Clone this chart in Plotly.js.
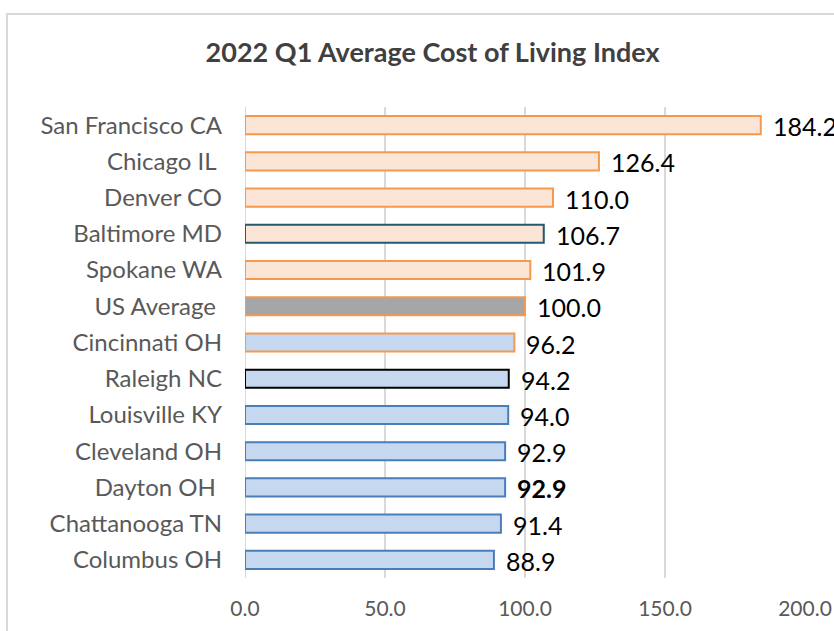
<!DOCTYPE html>
<html>
<head>
<meta charset="utf-8">
<script src="https://cdn.plot.ly/plotly-3.0.1.min.js"></script>
<style>
  html, body { margin: 0; padding: 0; background: #ffffff; overflow: hidden; }
  #frame { position: absolute; left: 6px; top: 13px; width: 1000px; height: 800px;
           border-left: 2px solid #d9d9d9; border-top: 2px solid #d9d9d9; }
  #chart { position: absolute; left: 0; top: 0; width: 834px; height: 631px; }
</style>
</head>
<body>
<div id="frame"></div>
<div id="chart"></div>
<script>
// Data (top to bottom as shown)
const cities = ["San Francisco CA", "Chicago IL\u00a0", "Denver CO", "Baltimore MD", "Spokane WA",
                "US Average\u00a0", "Cincinnati OH", "Raleigh NC", "Louisville KY", "Cleveland OH",
                "Dayton OH\u00a0", "Chattanooga TN", "Columbus OH"];
const costIndex = [184.2, 126.4, 110.0, 106.7, 101.9, 100.0, 96.2, 94.2, 94.0, 92.9, 92.9, 91.4, 88.9];
const fillColors = ["#fbe5d6", "#fbe5d6", "#fbe5d6", "#fbe5d6", "#fbe5d6",
                    "#a6a6a6", "#c5d8ef", "#c5d8ef", "#c5d8ef", "#c5d8ef",
                    "#c5d8ef", "#c5d8ef", "#c5d8ef"];
const borderColors = ["#f4994e", "#f4994e", "#f4994e", "#245a6b", "#f4994e",
                      "#f4994e", "#f4994e", "#000000", "#4a7ebb", "#4a7ebb",
                      "#4a7ebb", "#4a7ebb", "#4a7ebb"];
const boldLabel = [false, false, false, false, false, false, false, false, false, false, true, false, false];
const xTicks = [0, 50, 100, 150, 200];

const FONT = "Lato, 'Open Sans', sans-serif";
const labelText = costIndex.map((v, i) => boldLabel[i] ? "<b>" + v.toFixed(1) + "</b>" : v.toFixed(1));

const trace = {
  type: "bar",
  orientation: "h",
  y: cities,
  x: costIndex,
  width: 0.5,
  marker: { color: fillColors, line: { color: borderColors, width: 2 } },
  hoverinfo: "x+y"
};

const annotations = costIndex.map((v, i) => ({
  x: v, y: cities[i], xref: "x", yref: "y",
  text: labelText[i], showarrow: false, xanchor: "left", yanchor: "middle",
  xshift: 10, yshift: -1,
  font: { family: FONT, size: 25, color: "#000000" }
}));

const layout = {
  width: 834, height: 631,
  margin: { l: 245, r: 29, t: 107, b: 53, pad: 0 },
  paper_bgcolor: "rgba(0,0,0,0)",
  plot_bgcolor: "rgba(0,0,0,0)",
  showlegend: false,
  title: {
    text: "<b>2022 Q1 Average Cost of Living Index</b>",
    x: 0.335, xref: "paper", xanchor: "center",
    y: 0.916, yanchor: "middle",
    font: { family: FONT, size: 27, color: "#404040" }
  },
  xaxis: {
    range: [0, 200],
    tickvals: xTicks,
    ticktext: xTicks.map(v => v.toFixed(1)),
    showgrid: true, gridcolor: "#d9d9d9", gridwidth: 2,
    zeroline: false, showline: false, ticks: "",
    ticklabelstandoff: 16,
    tickfont: { family: FONT, size: 21, color: "#595959" },
    fixedrange: true
  },
  yaxis: {
    type: "category",
    categoryorder: "array",
    categoryarray: cities.slice().reverse(),
    autorange: false,
    range: [-0.5, cities.length - 0.5],
    showgrid: false, zeroline: false, showline: false, ticks: "",
    ticklabelstandoff: 22,
    tickfont: { family: FONT, size: 24, color: "#595959" },
    fixedrange: true
  },
  annotations: annotations,
  shapes: [{
    type: "line", xref: "x", yref: "paper", x0: 0, x1: 0, y0: 0, y1: 1,
    line: { color: "#d9d9d9", width: 2 }, layer: "below"
  }]
};

Plotly.newPlot("chart", [trace], layout, { displayModeBar: false, staticPlot: true });
</script>
</body>
</html>
